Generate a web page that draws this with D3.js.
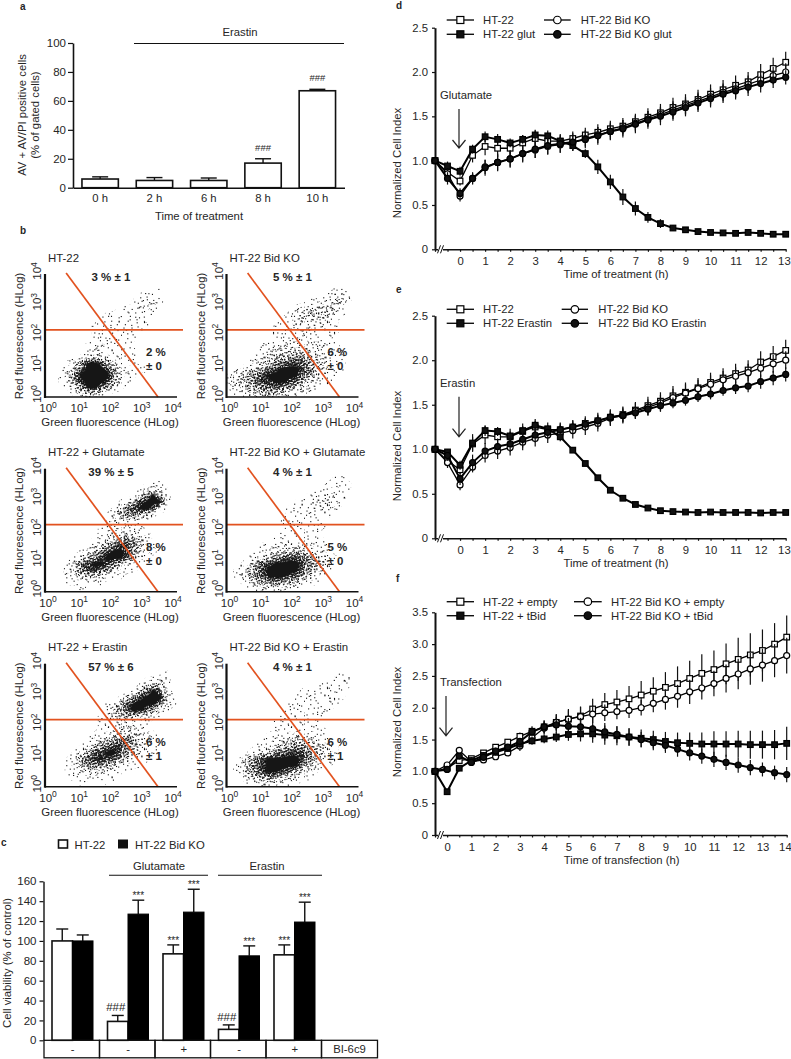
<!DOCTYPE html>
<html>
<head>
<meta charset="utf-8">
<script src="https://cdn.jsdelivr.net/npm/d3@7"></script>
<style>
  body { margin: 0; background: #fff; }
  text { font-family: "Liberation Sans", Arial, sans-serif; fill: #262626; }
  .domain, .tick line { stroke: #111; }
</style>
</head>
<body>
<svg id="fig" width="791" height="1059"></svg>
<script>
// ---------- panel a ----------
const aCats = ['0 h', '2 h', '6 h', '8 h', '10 h'];
const aVals = [6, 5, 5, 17, 67];
const aErrs = [1.5, 2, 1.7, 3, 1];
const aMarks = ['', '', '', '###', '###'];

// ---------- panel c ----------
const cGroups = ['g1', 'g2', 'g3', 'g4', 'g5'];
const cInhibitor = ['-', '-', '+', '-', '+'];
const cWhite = [100, 19, 87, 11, 86];
const cWhiteErr = [12, 6, 9, 4.5, 10];
const cWhiteMarks = ['', '###', '***', '###', '***'];
const cBlack = [100, 127, 129, 85, 119];
const cBlackErr = [6, 14, 23, 10, 20];
const cBlackMarks = ['', '***', '***', '***', '***'];

// ---------- panels d, e, f ----------
const tTreat = [-1, -0.5, 0, 0.5, 1, 1.5, 2, 2.5, 3, 3.5, 4, 4.5, 5, 5.5, 6, 6.5, 7, 7.5, 8, 8.5, 9, 9.5, 10, 10.5, 11, 11.5, 12, 12.5, 13];
const tTransf = [-0.5, 0, 0.5, 1, 1.5, 2, 2.5, 3, 3.5, 4, 4.5, 5, 5.5, 6, 6.5, 7, 7.5, 8, 8.5, 9, 9.5, 10, 10.5, 11, 11.5, 12, 12.5, 13, 13.5, 14];

const dHt = [1.0, .87, .77, 1.06, 1.16, 1.14, 1.14, 1.20, 1.25, 1.22, 1.22, 1.25, 1.29, 1.32, 1.36, 1.39, 1.44, 1.49, 1.54, 1.60, 1.64, 1.69, 1.75, 1.80, 1.85, 1.89, 1.97, 2.04, 2.11];
const dHtErr = [0, .06, .05, .08, .10, .10, .09, .09, .09, .08, .08, .08, .08, .09, .09, .09, .09, .10, .10, .11, .11, .11, .11, .11, .11, .11, .12, .12, .12];
const dGlut = [1.0, .94, .88, 1.13, 1.27, 1.24, 1.20, 1.24, 1.29, 1.28, 1.22, 1.17, 1.08, .93, .76, .59, .46, .36, .29, .24, .22, .20, .19, .185, .18, .19, .18, .17, .17];
const dGlutErr = [0, .05, .05, .05, .06, .06, .05, .05, .06, .06, .05, .05, .05, .08, .08, .09, .08, .06, .05, .03, .03, .02, .02, .02, .02, .02, .02, .02, .02];
const dKo = [1.0, .85, .60, .80, .93, .98, 1.02, 1.08, 1.12, 1.16, 1.18, 1.20, 1.25, 1.29, 1.33, 1.37, 1.42, 1.47, 1.52, 1.57, 1.62, 1.67, 1.72, 1.77, 1.81, 1.86, 1.91, 1.96, 2.00];
const dKoErr = [0, .06, .06, .06, .08, .09, .09, .09, .09, .09, .09, .09, .09, .09, .09, .09, .09, .09, .09, .10, .10, .10, .10, .10, .10, .10, .10, .10, .10];
const dKoGlut = [1.0, .80, .63, .80, .92, .98, 1.02, 1.08, 1.13, 1.17, 1.19, 1.21, 1.24, 1.28, 1.33, 1.36, 1.41, 1.46, 1.50, 1.55, 1.60, 1.65, 1.70, 1.75, 1.79, 1.83, 1.87, 1.91, 1.94];
const dKoGlutErr = [0, .07, .06, .07, .09, .10, .10, .10, .10, .10, .10, .10, .10, .10, .10, .10, .10, .10, .10, .10, .10, .10, .10, .10, .10, .10, .10, .09, .08];

const eHt = [1.0, .87, .77, 1.06, 1.16, 1.14, 1.14, 1.20, 1.25, 1.22, 1.22, 1.25, 1.29, 1.32, 1.36, 1.39, 1.44, 1.49, 1.54, 1.60, 1.64, 1.69, 1.75, 1.80, 1.85, 1.89, 1.98, 2.04, 2.11];
const eHtErr = [0, .06, .05, .08, .10, .10, .09, .09, .09, .08, .08, .08, .08, .09, .09, .09, .09, .10, .10, .11, .11, .11, .11, .11, .11, .11, .12, .12, .12];
const eEra = [1.0, .97, .82, 1.07, 1.21, 1.20, 1.15, 1.21, 1.27, 1.23, 1.14, .99, .84, .68, .54, .45, .38, .34, .31, .30, .295, .29, .295, .29, .29, .29, .285, .29, .29];
const eEraErr = [0, .03, .05, .10, .06, .05, .05, .05, .05, .04, .03, .02, .02, .02, .02, .02, .02, .02, .01, .01, .01, .01, .01, .01, .01, .01, .01, .01, .01];
const eKo = [1.0, .85, .60, .80, .93, .98, 1.02, 1.08, 1.12, 1.16, 1.18, 1.21, 1.25, 1.29, 1.35, 1.38, 1.43, 1.47, 1.52, 1.58, 1.63, 1.68, 1.73, 1.78, 1.82, 1.86, 1.91, 1.96, 2.00];
const eKoErr = [0, .06, .06, .06, .08, .09, .09, .09, .09, .09, .09, .09, .09, .09, .09, .09, .09, .09, .09, .10, .10, .10, .10, .10, .10, .10, .10, .10, .10];
const eKoEra = [1.0, .93, .67, .85, .98, 1.03, 1.06, 1.11, 1.16, 1.19, 1.22, 1.25, 1.28, 1.32, 1.36, 1.38, 1.41, 1.45, 1.49, 1.52, 1.55, 1.59, 1.62, 1.66, 1.69, 1.71, 1.76, 1.80, 1.84];
const eKoEraErr = [0, .06, .07, .09, .09, .09, .09, .09, .08, .08, .07, .07, .07, .07, .07, .07, .07, .07, .07, .06, .06, .06, .06, .06, .07, .07, .08, .08, .08];

const fEmpty = [1.0, 1.05, 1.17, 1.20, 1.29, 1.38, 1.46, 1.55, 1.63, 1.70, 1.77, 1.82, 1.87, 1.98, 2.05, 2.09, 2.14, 2.20, 2.26, 2.32, 2.38, 2.46, 2.54, 2.60, 2.69, 2.76, 2.83, 2.90, 3.00, 3.11];
const fEmptyErr = [0, .03, .05, .04, .04, .04, .05, .06, .08, .10, .13, .16, .15, .16, .18, .19, .20, .22, .22, .24, .27, .28, .30, .30, .32, .34, .34, .33, .33, .34];
const fTbid = [1.0, .68, 1.05, 1.17, 1.25, 1.30, 1.36, 1.43, 1.48, 1.51, 1.54, 1.58, 1.59, 1.59, 1.57, 1.56, 1.54, 1.52, 1.50, 1.47, 1.45, 1.44, 1.43, 1.43, 1.43, 1.43, 1.42, 1.42, 1.42, 1.44];
const fTbidErr = [0, .04, .05, .05, .05, .05, .05, .06, .06, .07, .08, .10, .12, .14, .15, .15, .14, .14, .14, .15, .16, .17, .18, .20, .20, .21, .22, .22, .23, .26];
const fKoEmpty = [1.0, 1.10, 1.33, 1.15, 1.18, 1.23, 1.29, 1.40, 1.53, 1.68, 1.77, 1.82, 1.86, 1.90, 1.92, 1.94, 1.96, 2.00, 2.07, 2.13, 2.18, 2.25, 2.31, 2.38, 2.46, 2.53, 2.61, 2.67, 2.74, 2.82];
const fKoEmptyErr = [0, .03, .05, .04, .04, .04, .05, .08, .08, .10, .12, .14, .15, .14, .13, .12, .12, .12, .14, .16, .18, .19, .18, .20, .22, .24, .25, .26, .26, .28];
const fKoTbid = [1.0, 1.03, 1.24, 1.14, 1.22, 1.32, 1.38, 1.47, 1.62, 1.70, 1.73, 1.71, 1.70, 1.67, 1.62, 1.58, 1.54, 1.50, 1.45, 1.41, 1.35, 1.29, 1.24, 1.19, 1.14, 1.10, 1.06, 1.03, .98, .95];
const fKoTbidErr = [0, .03, .05, .05, .05, .05, .05, .05, .07, .10, .12, .13, .14, .16, .14, .13, .13, .12, .12, .12, .12, .12, .12, .12, .12, .12, .12, .11, .11, .12];

// ---------- panel b ----------
// the individual events can't be read off the picture, so each plot is a 20x20
// table of dot density (0 empty - 9 black), estimated by eye, top row first
const bHt22 = [
  '00000000000000000000', '00000000000000000000', '00000000000000000100', '00000000000000111000',
  '00000000000001222100', '00000000000111221000', '00000000011111111000', '00000000111111100000',
  '00000001111111110000', '00000001111111100000', '00000001111111000000', '00000011211110000000',
  '00000012211111000000', '00000123321111000000', '00013699853111000000', '00124799985321110000',
  '00127999996211000000', '00126899984210000000', '00013599742100000000', '00001233210000000000'];
const bKo = [
  '00000000000000000000', '00000000000000000000', '00000000000000001110', '00000000000000012210',
  '00000000000011223310', '00000000001233343100', '00000000012343432100', '00000000112332211000',
  '00000001112222211000', '00000001111221111000', '00000001111211110000', '00000112222222211000',
  '00000123333332211100', '00001234456643221100', '00012345788764321100', '01234578999875321100',
  '23456899999753211000', '23457889987532110000', '12345677654321000000', '01123443322100000000'];
const bGlut = [
  '00000000000000000000', '00000000000000000000', '00000000000000011100', '00000000000000123310',
  '00000000000001479510', '00000000000135899920', '00000000001368997210', '00000000013566431000',
  '00000000012221100000', '00000000111221100000', '00000000122232110000', '00000001123565320000',
  '00000012357886421000', '00000124689985321000', '00001356899975210000', '00013689986421100000',
  '00024688754211000000', '00012343221100000000', '00011111100000000000', '00000100000000000000'];
const bKoGlut = [
  '00000000000000000000', '00000000000000001100', '00000000000000011110', '00000000000001111110',
  '00000000000112222100', '00000000001112232100', '00000000011112221000', '00000000011111110000',
  '00000000111111100000', '00000000011111100000', '00000000111111000000', '00000001111111100000',
  '00000112222221110000', '00001123345432210000', '00012346788764321000', '00135789999865321000',
  '01246899999754210000', '01246799987532100000', '00124566543211000000', '00011222211000000000'];
const bEra = [
  '00000000000000000000', '00000000000000000010', '00000000000000011210', '00000000000000135410',
  '00000000000001479720', '00000000000136899941', '00000000011479999621', '00000000014689975210',
  '00000000123454321100', '00000000111221110000', '00000000112332110000', '00000001113344221000',
  '00000012346775321000', '00000124678864211000', '00001257899754211000', '00012578987532110000',
  '00012466643211100000', '00011233221110000000', '00011111111000000000', '00000100010000000000'];
const bKoEra = [
  '00000000000000000000', '00000000000000000100', '00000000000000001110', '00000000000000111110',
  '00000000000111111100', '00000000001112121100', '00000000011111111000', '00000000011111110000',
  '00000000111111100000', '00000001111111000000', '00000001111111100000', '00000011112222100000',
  '00000112334432110000', '00001123456654321000', '00012346788865321000', '00246899999864211000',
  '01357899999642110000', '01356899875321000000', '00134565432110000000', '00011222111000000000'];
const bTitles = ['HT-22', 'HT-22 Bid KO', 'HT-22 + Glutamate', 'HT-22 Bid KO + Glutamate', 'HT-22 + Erastin', 'HT-22 Bid KO + Erastin'];
const bUpper = ['3 % ± 1', '5 % ± 1', '39 % ± 5', '4 % ± 1', '57 % ± 6', '4 % ± 1'];
const bLower1 = ['2 %', '6 %', '8 %', '5 %', '6 %', '6 %'];
const bLower2 = ['± 0', '± 0', '± 0', '± 0', '± 1', '± 1'];
const bTables = [bHt22, bKo, bGlut, bKoGlut, bEra, bKoEra];
const bLogTicks = [0, 1, 2, 3, 4];
// gates, in log10 units
const gateHoriz = 2.18;
const gateDiag = [[0.58, 4.03], [3.52, 0]];

const svg = d3.select('#fig');
const defs = svg.append('defs');
const FS = 11.3;
const RED = '#e2521f';

function label(g, x, y, txt, opts = {}) {
  return g.append('text').attr('x', x).attr('y', y)
    .attr('font-size', opts.size || FS)
    .attr('text-anchor', opts.anchor || 'middle')
    .attr('font-weight', opts.weight || null)
    .text(txt);
}
function vLabel(g, x, y, txt, size = FS) {
  g.append('text').attr('transform', `translate(${x},${y}) rotate(-90)`)
    .attr('text-anchor', 'middle').attr('font-size', size).text(txt);
}
function styleAxis(a, w) {
  a.selectAll('.domain').attr('stroke-width', w);
  a.selectAll('.tick line').attr('stroke-width', 1.2);
  a.selectAll('.tick text').attr('font-size', FS).attr('font-family', null);
}

// panel letters
[['a', 20, 10], ['b', 20, 234], ['c', 1, 846], ['d', 396, 9], ['e', 396, 293], ['f', 396, 582]]
  .forEach(d => label(svg, d[1], d[2], d[0], {anchor: 'start', weight: 'bold', size: 10}));

// ---------- a: bar chart ----------
function drawA() {
  const x = d3.scaleBand().domain(aCats).range([73, 344.5]).paddingInner(0.33).paddingOuter(0.165);
  const y = d3.scaleLinear().domain([0, 100]).range([187.7, 43]);
  const g = svg.append('g');

  aCats.forEach((c, i) => {
    const cx = x(c) + x.bandwidth() / 2;
    g.append('line').attr('x1', cx).attr('x2', cx).attr('y1', y(aVals[i])).attr('y2', y(aVals[i] + aErrs[i]))
      .attr('stroke', '#111').attr('stroke-width', 1.4);
    g.append('line').attr('x1', cx - 8).attr('x2', cx + 8).attr('y1', y(aVals[i] + aErrs[i])).attr('y2', y(aVals[i] + aErrs[i]))
      .attr('stroke', '#111').attr('stroke-width', 1.4);
    g.append('rect').attr('x', x(c)).attr('width', x.bandwidth())
      .attr('y', y(aVals[i])).attr('height', y(0) - y(aVals[i]))
      .attr('fill', '#fff').attr('stroke', '#111').attr('stroke-width', 1.6);
    if (aMarks[i]) label(g, cx, y(aVals[i] + aErrs[i]) - 8, aMarks[i], {size: 9.5});
  });

  const ax = g.append('g').attr('transform', `translate(0,${y(0)})`)
    .call(d3.axisBottom(x).tickSize(0).tickPadding(6));
  styleAxis(ax, 1.6);
  const ay = g.append('g').attr('transform', 'translate(73,0)')
    .call(d3.axisLeft(y).tickValues([0, 20, 40, 60, 80, 100]).tickSize(5).tickSizeOuter(0).tickPadding(2));
  styleAxis(ay, 1.6);
  ay.selectAll('.tick text').attr('font-size', 11.5);

  vLabel(g, 26, 115, 'AV + AV/PI positive cells');
  vLabel(g, 39, 115, '(% of gated cells)');
  label(g, 199, 220, 'Time of treatment');
  label(g, 240, 36, 'Erastin');
  g.append('line').attr('x1', 134).attr('x2', 344).attr('y1', 43.5).attr('y2', 43.5).attr('stroke', '#111').attr('stroke-width', 1.2);
}

// ---------- b: dot plots ----------
// stipple fills, one per density level; every level adds dots on top of the one below.
// positions come from a Halton sequence, this is only the look of the fill, not data
const tile = 61;
const levelDots = [170, 200, 280, 380, 500, 650, 850, 2000];
function halton(i, base) {
  let f = 1, r = 0;
  while (i > 0) { f /= base; r += f * (i % base); i = Math.floor(i / base); }
  return r;
}
function makeStipple() {
  let n = 1;
  levelDots.forEach((cnt, lv) => {
    const p = defs.append('pattern').attr('id', 'st' + (lv + 1))
      .attr('patternUnits', 'userSpaceOnUse').attr('width', tile).attr('height', tile);
    for (let k = 0; k < cnt; k++, n++) {
      p.append('rect')
        .attr('x', ((halton(n, 2) + 0.06 * halton(n, 5)) % 1) * tile)
        .attr('y', ((halton(n, 3) + 0.06 * halton(n, 7)) % 1) * tile)
        .attr('width', 1.1).attr('height', 1.1).attr('fill', '#111');
    }
  });
  defs.append('filter').attr('id', 'soft').attr('x', '-5%').attr('y', '-5%').attr('width', '110%').attr('height', '110%')
    .append('feGaussianBlur').attr('stdDeviation', 0.25);
}

function drawDotPlot(idx, left, bottom) {
  const g = svg.append('g');
  const top = bottom - 123;
  const gx = d3.scaleLinear().domain([0, 20]).range([left, left + 132]);
  const gy = d3.scaleLinear().domain([0, 20]).range([top, bottom]);
  const x = d3.scaleLinear().domain([0, 4]).range([left + 3, left + 128]);
  const y = d3.scaleLinear().domain([0, 4]).range([bottom, top]);

  const values = bTables[idx].join('').split('').map(Number);
  const bands = d3.contours().size([20, 20]).thresholds(d3.range(0.5, 9, 1))(values);
  const path = d3.geoPath(d3.geoTransform({
    point(px, py) { this.stream.point(gx(px), gy(py)); }
  }));
  g.append('g').attr('filter', 'url(#soft)')
    .selectAll('path').data(bands).enter().append('path')
    .attr('d', path)
    .attr('fill', (d, i) => i < levelDots.length ? `url(#st${i + 1})` : '#141414');

  // gates
  g.append('line').attr('x1', left).attr('x2', left + 138).attr('y1', y(gateHoriz)).attr('y2', y(gateHoriz))
    .attr('stroke', RED).attr('stroke-width', 1.7);
  g.append('line').attr('x1', x(gateDiag[0][0])).attr('y1', y(gateDiag[0][1]))
    .attr('x2', x(gateDiag[1][0])).attr('y2', y(gateDiag[1][1]))
    .attr('stroke', RED).attr('stroke-width', 1.7);

  // axes: thick lines, no ticks
  g.append('line').attr('x1', left).attr('x2', left).attr('y1', top).attr('y2', bottom + 1)
    .attr('stroke', '#111').attr('stroke-width', 2.2);
  g.append('line').attr('x1', left).attr('x2', left + 132).attr('y1', bottom).attr('y2', bottom)
    .attr('stroke', '#111').attr('stroke-width', 1.6);

  bLogTicks.forEach(t => {
    const tx = label(g, x(t), bottom + 15, '10', {size: 11.5});
    tx.append('tspan').attr('dy', -4.5).attr('font-size', 8.5).text(t);
    const ty = g.append('text').attr('transform', `translate(${left - 4},${y(t) - 3}) rotate(-90)`)
      .attr('text-anchor', 'middle').attr('font-size', 11.5).text('10');
    ty.append('tspan').attr('dy', -4.5).attr('font-size', 8.5).text(t);
  });

  label(g, left + 3, top - 12.5, bTitles[idx], {anchor: 'start', size: 11.4});
  label(g, left + 66, bottom - 116, bUpper[idx], {weight: 'bold', size: 11.5});
  label(g, left + 101, bottom - 41, bLower1[idx], {anchor: 'start', weight: 'bold', size: 11.5});
  label(g, left + 101, bottom - 27, bLower2[idx], {anchor: 'start', weight: 'bold', size: 11.5});
  vLabel(g, left - 22, bottom - 61, 'Red fluorescence (HLog)', 11.4);
  label(g, left + 65, bottom + 29, 'Green fluorescence (HLog)', {size: 11.4});
}

// ---------- c: grouped bars with the table underneath ----------
function drawC() {
  const x = d3.scaleBand().domain(cGroups).range([44, 321.5]);
  const inner = d3.scaleBand().domain(['w', 'b']).range([8, 49]);
  const y = d3.scaleLinear().domain([0, 160]).range([1040.3, 881.3]);
  const g = svg.append('g');

  const errBar = (cx, v, e) => {
    g.append('line').attr('x1', cx).attr('x2', cx).attr('y1', y(v)).attr('y2', y(v + e)).attr('stroke', '#111').attr('stroke-width', 1.4);
    g.append('line').attr('x1', cx - 6).attr('x2', cx + 6).attr('y1', y(v + e)).attr('y2', y(v + e)).attr('stroke', '#111').attr('stroke-width', 1.4);
  };
  cGroups.forEach((c, i) => {
    const xw = x(c) + inner('w'), xb = x(c) + inner('b'), bw = inner.bandwidth();
    errBar(xw + bw / 2, cWhite[i], cWhiteErr[i]);
    errBar(xb + bw / 2, cBlack[i], cBlackErr[i]);
    g.append('rect').attr('x', xw).attr('width', bw).attr('y', y(cWhite[i])).attr('height', y(0) - y(cWhite[i]))
      .attr('fill', '#fff').attr('stroke', '#111').attr('stroke-width', 1.6);
    g.append('rect').attr('x', xb).attr('width', bw).attr('y', y(cBlack[i])).attr('height', y(0) - y(cBlack[i]))
      .attr('fill', '#000').attr('stroke', '#000').attr('stroke-width', 1);
    if (cWhiteMarks[i]) {
      const big = cWhiteMarks[i] === '###';
      label(g, xw + bw / 2 + (big ? -2 : 0), y(cWhite[i] + cWhiteErr[i]) + (big ? -4 : -1), cWhiteMarks[i], {size: big ? 11.5 : 10});
    }
    if (cBlackMarks[i]) label(g, xb + bw / 2, y(cBlack[i] + cBlackErr[i]) - 1, cBlackMarks[i], {size: 10});

    // table row
    g.append('rect').attr('x', x(c)).attr('y', 1040.3).attr('width', x.bandwidth()).attr('height', 17.5)
      .attr('fill', 'none').attr('stroke', '#111').attr('stroke-width', 1.3);
    label(g, x(c) + x.bandwidth() / 2 + 1, 1053, cInhibitor[i]);
  });
  g.append('rect').attr('x', 321.5).attr('y', 1040.3).attr('width', 56).attr('height', 17.5)
    .attr('fill', 'none').attr('stroke', '#111').attr('stroke-width', 1.3);
  label(g, 349.5, 1053, 'BI-6c9');

  const ay = g.append('g').attr('transform', 'translate(43.5,0)')
    .call(d3.axisLeft(y).tickValues(d3.range(0, 161, 20)).tickSize(4).tickSizeOuter(0).tickPadding(3));
  styleAxis(ay, 1.4);
  ay.selectAll('.tick text').attr('font-size', 11.5);
  vLabel(g, 11, 963, 'Cell viability (% of control)');

  // legend and treatment bars
  g.append('rect').attr('x', 58.5).attr('y', 840).attr('width', 9).attr('height', 8).attr('fill', '#fff').attr('stroke', '#111').attr('stroke-width', 1.6);
  label(g, 74.5, 849, 'HT-22', {anchor: 'start'});
  g.append('rect').attr('x', 118).attr('y', 839.5).attr('width', 10).attr('height', 9).attr('fill', '#111');
  label(g, 135, 849, 'HT-22 Bid KO', {anchor: 'start'});
  label(g, 159, 869.5, 'Glutamate');
  label(g, 267, 869.5, 'Erastin');
  g.append('line').attr('x1', 109).attr('x2', 208).attr('y1', 875.3).attr('y2', 875.3).attr('stroke', '#111').attr('stroke-width', 1.1);
  g.append('line').attr('x1', 218).attr('x2', 322).attr('y1', 875.3).attr('y2', 875.3).attr('stroke', '#111').attr('stroke-width', 1.1);
}

// ---------- d, e, f: growth curves ----------
function drawCurves(c) {
  const g = svg.append('g');
  const x = d3.scaleLinear().domain(c.xDomain).range([435, c.xMaxPx]);
  const y = d3.scaleLinear().domain([0, c.yMax]).range([c.bottom, c.top]);
  const line = d3.line().x(d => x(d[0])).y(d => y(d[1]));

  const halfTicks = d3.range(c.xDomain[0], c.xDomain[1] + 0.01, 0.5);
  const ax = g.append('g').attr('transform', `translate(0,${c.bottom})`)
    .call(d3.axisBottom(x).tickValues(halfTicks).tickSize(2.5).tickSizeOuter(0).tickPadding(5)
      .tickFormat(d => (d >= 0 && Number.isInteger(d)) ? d : ''));
  styleAxis(ax, 1.6);
  // last label would run off the page, pull it in
  ax.selectAll('.tick:last-of-type text').attr('text-anchor', 'end').attr('x', 4.5);
  const ay = g.append('g').attr('transform', 'translate(435,0)')
    .call(d3.axisLeft(y).tickValues(d3.range(0, c.yMax + 0.01, 0.5)).tickSize(3).tickSizeOuter(0).tickPadding(4)
      .tickFormat(d => d === 0 ? '0' : d3.format('.1f')(d)));
  styleAxis(ay, 2);

  // axis break
  g.append('rect').attr('x', 438).attr('y', c.bottom - 2).attr('width', 5).attr('height', 4).attr('fill', '#fff');
  [0, 3].forEach(o => g.append('line').attr('x1', 437.5 + o).attr('x2', 440.5 + o)
    .attr('y1', c.bottom + 4).attr('y2', c.bottom - 4).attr('stroke', '#111').attr('stroke-width', 1));

  c.series.forEach(s => {
    const pts = c.t.map((t, i) => [t, s.v[i], s.e[i]]);
    // error bars under the line
    g.selectAll(null).data(pts).enter().append('line')
      .attr('x1', d => x(d[0])).attr('x2', d => x(d[0]))
      .attr('y1', d => y(d[1] - d[2])).attr('y2', d => y(d[1] + d[2]))
      .attr('stroke', '#111').attr('stroke-width', 1.2);
    g.append('path').datum(pts).attr('d', line).attr('fill', 'none').attr('stroke', '#000')
      .attr('stroke-width', s.filled ? 2 : 1.3);
    marker(g, s, pts.map(d => [x(d[0]), y(d[1])]));
  });

  // legend
  c.legend.forEach(l => {
    g.append('line').attr('x1', l.x1).attr('x2', l.x2).attr('y1', l.y).attr('y2', l.y).attr('stroke', '#111').attr('stroke-width', 1.4);
    marker(g, c.series[l.s], [[(l.x1 + l.x2) / 2, l.y]], 1.25);
    label(g, l.tx, l.y + 3.8, c.series[l.s].name, {anchor: 'start'});
  });

  // treatment arrow
  label(g, 440, c.arrow.ty, c.arrow.text, {anchor: 'start'});
  const ah = c.arrow;
  g.append('path').attr('d', `M${ah.x},${ah.y1}V${ah.y2}M${ah.x - 6.5},${ah.y2 - 8}L${ah.x},${ah.y2}L${ah.x + 6.5},${ah.y2 - 8}`)
    .attr('fill', 'none').attr('stroke', '#222').attr('stroke-width', 1.2);

  label(g, c.titleX, c.bottom + 28.5, c.xTitle);
  vLabel(g, 401, c.yLabelY, 'Normalized Cell Index');
}

function marker(g, s, pts, k = 1) {
  const fill = s.filled ? '#111' : '#fff';
  if (s.shape === 'square') {
    const w = 5.6 * k;
    g.selectAll(null).data(pts).enter().append('rect')
      .attr('x', d => d[0] - w / 2).attr('y', d => d[1] - w / 2).attr('width', w).attr('height', w)
      .attr('fill', fill).attr('stroke', '#000').attr('stroke-width', 1.2);
  } else {
    g.selectAll(null).data(pts).enter().append('circle')
      .attr('cx', d => d[0]).attr('cy', d => d[1]).attr('r', 3 * k)
      .attr('fill', fill).attr('stroke', '#000').attr('stroke-width', 1.2);
  }
}

function legendRows(y1, y2, col2) {
  return [
    {s: 0, x1: 446.7, x2: 474, y: y1, tx: 483},
    {s: 2, x1: 446.7, x2: 474, y: y2, tx: 483},
    {s: 1, x1: col2[0], x2: col2[1], y: y1, tx: col2[2]},
    {s: 3, x1: col2[0], x2: col2[1], y: y2, tx: col2[2]}
  ];
}

makeStipple();
drawA();
const bLeft = [45, 226.5];
const bBottom = [397, 591.7, 786.7];
bBottom.forEach((b, r) => bLeft.forEach((l, k) => drawDotPlot(r * 2 + k, l, b)));
drawC();

drawCurves({
  t: tTreat, xDomain: [-1, 13], xMaxPx: 785.7, yMax: 2.5, top: 27.7, bottom: 249.3,
  xTitle: 'Time of treatment (h)', titleX: 616, yLabelY: 163,
  arrow: {text: 'Glutamate', ty: 99, x: 459, y1: 109, y2: 148},
  series: [
    {name: 'HT-22', v: dHt, e: dHtErr, shape: 'square', filled: false},
    {name: 'HT-22 Bid KO', v: dKo, e: dKoErr, shape: 'circle', filled: false},
    {name: 'HT-22 glut', v: dGlut, e: dGlutErr, shape: 'square', filled: true},
    {name: 'HT-22 Bid KO glut', v: dKoGlut, e: dKoGlutErr, shape: 'circle', filled: true}
  ],
  legend: legendRows(20, 34.3, [544, 570.7, 580.7])
});
drawCurves({
  t: tTreat, xDomain: [-1, 13], xMaxPx: 785.7, yMax: 2.5, top: 315.7, bottom: 538.3,
  xTitle: 'Time of treatment (h)', titleX: 616, yLabelY: 446,
  arrow: {text: 'Erastin', ty: 387, x: 459, y1: 396.7, y2: 436.7},
  series: [
    {name: 'HT-22', v: eHt, e: eHtErr, shape: 'square', filled: false},
    {name: 'HT-22 Bid KO', v: eKo, e: eKoErr, shape: 'circle', filled: false},
    {name: 'HT-22 Erastin', v: eEra, e: eEraErr, shape: 'square', filled: true},
    {name: 'HT-22 Bid KO Erastin', v: eKoEra, e: eKoEraErr, shape: 'circle', filled: true}
  ],
  legend: legendRows(309.3, 323.3, [561.7, 588, 598.3])
});
drawCurves({
  t: tTransf, xDomain: [-0.5, 14], xMaxPx: 786.7, yMax: 3.5, top: 612.3, bottom: 835,
  xTitle: 'Time of transfection (h)', titleX: 621.7, yLabelY: 722,
  arrow: {text: 'Transfection', ty: 686, x: 446, y1: 696, y2: 735.7},
  series: [
    {name: 'HT-22 + empty', v: fEmpty, e: fEmptyErr, shape: 'square', filled: false},
    {name: 'HT-22 Bid KO + empty', v: fKoEmpty, e: fKoEmptyErr, shape: 'circle', filled: false},
    {name: 'HT-22 + tBid', v: fTbid, e: fTbidErr, shape: 'square', filled: true},
    {name: 'HT-22 Bid KO + tBid', v: fKoTbid, e: fKoTbidErr, shape: 'circle', filled: true}
  ],
  legend: legendRows(601.7, 615.7, [574, 601.7, 611])
});
</script>
</body>
</html>
